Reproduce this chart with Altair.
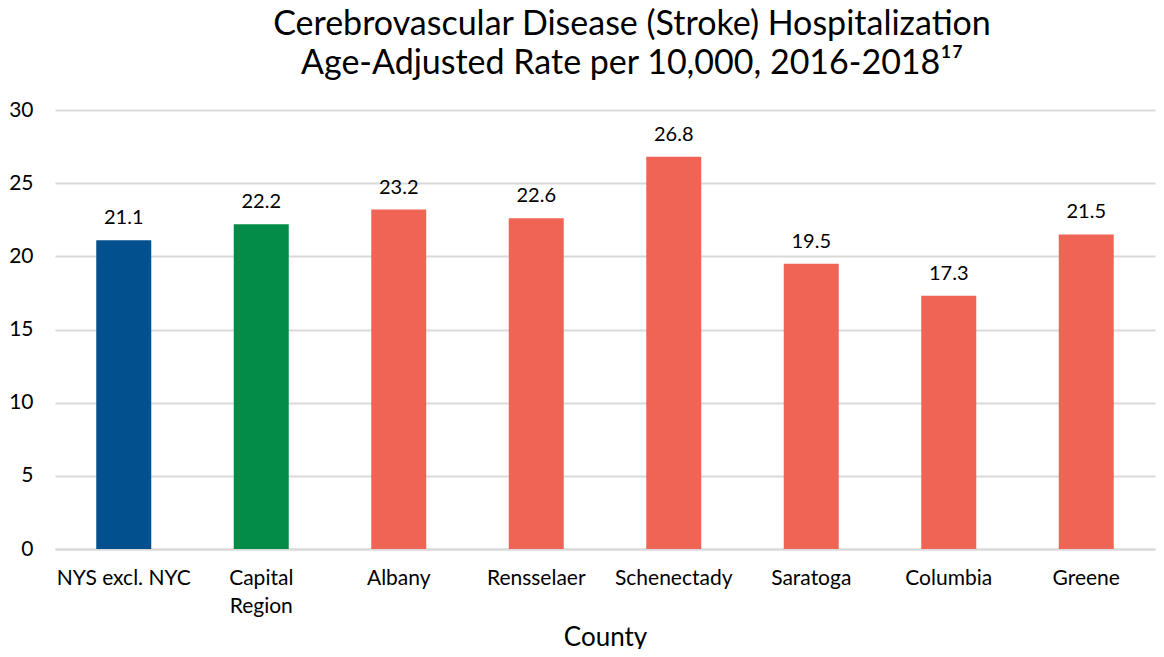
import altair as alt
import pandas as pd

counties = ["NYS excl. NYC", "Capital Region", "Albany", "Rensselaer", "Schenectady", "Saratoga", "Columbia", "Greene"]
rates = [21.1, 22.2, 23.2, 22.6, 26.8, 19.5, 17.3, 21.5]
groups = ["state", "region", "county", "county", "county", "county", "county", "county"]
y_ticks = [0, 5, 10, 15, 20, 25, 30]

df = pd.DataFrame({"County": counties, "Rate": rates, "Group": groups})

FONT = "Lato"

x = alt.X("County:N", sort=counties,
          scale=alt.Scale(paddingInner=0.6, paddingOuter=0.3),
          axis=alt.Axis(title="County", titleFontSize=26, titleFont=FONT, titleFontWeight="normal",
                        titleColor="#000000", titleBaseline="alphabetic", titleY=96,
                        labelFont=FONT, labelFontSize=21, labelColor="#000000", labelAngle=0,
                        labelPadding=18, ticks=False, domainColor="#D9D9D9", domainWidth=2,
                        labelExpr="datum.label == 'Capital Region' ? ['Capital', 'Region'] : datum.label",
                        labelLineHeight=28, labelBaseline="top"))

bars = alt.Chart(df).mark_bar().encode(
    x=x,
    y=alt.Y("Rate:Q", scale=alt.Scale(domain=[0, 30]),
            axis=alt.Axis(title=None, values=y_ticks, labelFont=FONT, labelFontSize=21,
                          labelColor="#000000", ticks=False, domain=False, labelPadding=22,
                          gridColor="#D9D9D9", gridWidth=2)),
    color=alt.Color("Group:N", scale=alt.Scale(domain=["state", "region", "county"],
                                               range=["#03508F", "#038C47", "#F06456"]), legend=None),
)

labels = alt.Chart(df).mark_text(font=FONT, fontSize=20, dy=-22, color="#000000").encode(
    x=alt.X("County:N", sort=counties),
    y="Rate:Q",
    text=alt.Text("Rate:Q", format=".1f"),
)

chart = (bars + labels).properties(
    width=1100, height=439,
    title=alt.TitleParams(
        text=["Cerebrovascular Disease (Stroke) Hospitalization", "Age-Adjusted Rate per 10,000, 2016-2018¹⁷"],
        font=FONT, fontSize=34, fontWeight="normal", color="#000000", anchor="middle",
        dx=27, lineHeight=39, offset=18),
    padding={"left": 47, "top": 102, "right": 1, "bottom": 100},
    autosize=alt.AutoSizeParams(type="none"),
).configure_view(stroke=None)

chart.save("out.html", embed_options={"renderer": "svg", "actions": False})
